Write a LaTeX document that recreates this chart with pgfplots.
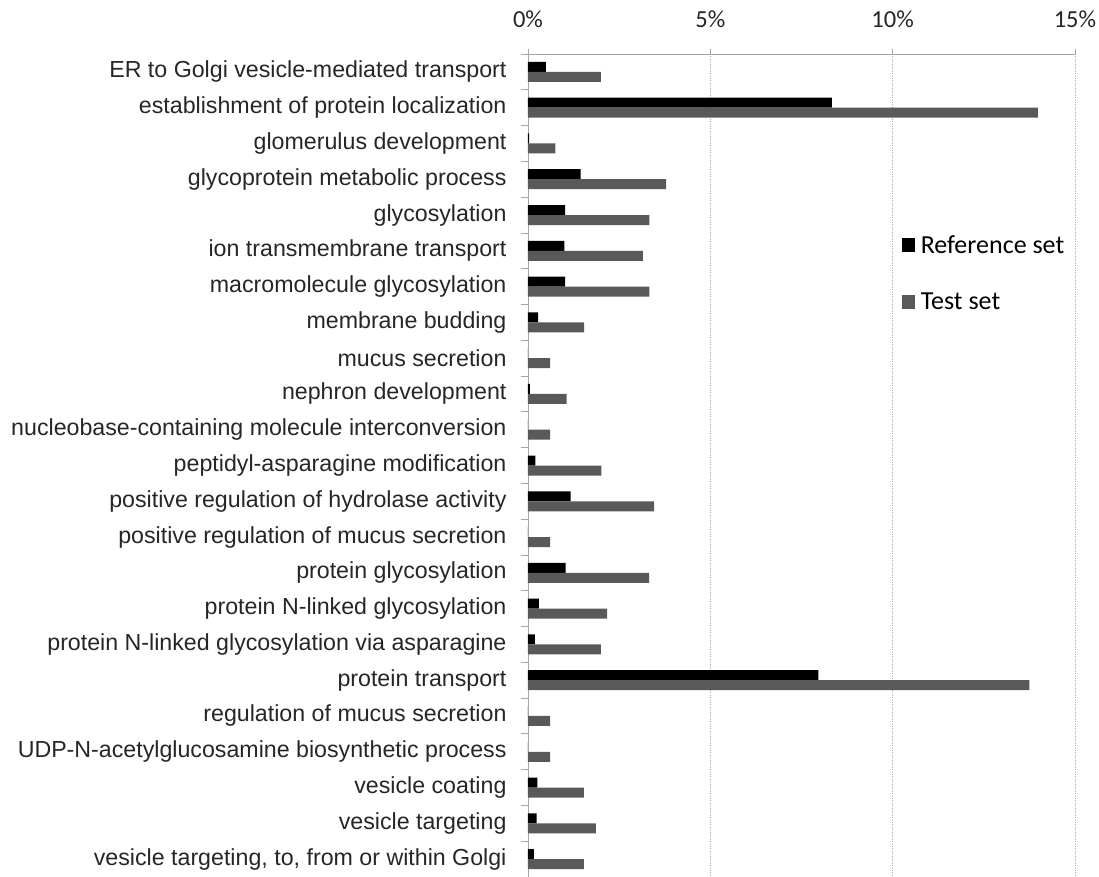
\documentclass[border=0pt]{standalone}
\usepackage{fontspec}
\usepackage{pgfplots}
\pgfplotsset{compat=1.18}
\newfontfamily\catfont{Liberation Sans}
\newfontfamily\calfont{Carlito}
\definecolor{testgray}{HTML}{595959}
\definecolor{axgray}{HTML}{A6A6A6}
\begin{document}
\begin{tikzpicture}
\begin{axis}[
  scale only axis,
  width=547pt, height=823pt,
  xbar, bar width=10pt,
  xmin=0, xmax=15, ymin=-0.5, ymax=22.5,
  y dir=reverse,
  axis x line*=top, axis y line*=left,
  axis line style={axgray, line width=0.8pt},
  xtick={0,5,10,15}, xticklabels={0\%,5\%,10\%,15\%},
  xmajorgrids, grid style={axgray, dotted, line width=0.8pt},
  ytick={0,...,22},
  minor ytick={-0.5,0.5,...,22.5},
  tick align=outside,
  major tick length=5pt, minor tick length=6.5pt,
  every major y tick/.append style={draw=none},
  every minor y tick/.append style={axgray, line width=0.8pt},
  every major x tick/.append style={axgray, line width=0.8pt},
  x tick label style={font=\calfont\fontsize{24.5}{28}\selectfont, text=black!85, yshift=18pt},
  y tick label style={font=\catfont\fontsize{23.2}{27}\selectfont, text=black!85, xshift=-13pt},
  yticklabels={
    ER to Golgi vesicle-mediated transport,
    establishment of protein localization,
    glomerulus development,
    glycoprotein metabolic process,
    glycosylation,
    ion transmembrane transport,
    macromolecule glycosylation,
    membrane budding,
    mucus secretion,
    nephron development,
    nucleobase-containing molecule interconversion,
    peptidyl-asparagine modification,
    positive regulation of hydrolase activity,
    positive regulation of mucus secretion,
    protein glycosylation,
    protein N-linked glycosylation,
    protein N-linked glycosylation via asparagine,
    protein transport,
    regulation of mucus secretion,
    UDP-N-acetylglucosamine biosynthetic process,
    vesicle coating,
    vesicle targeting,
    {vesicle targeting, to, from or within Golgi}},
  legend style={at={(axis description cs:0.683,0.782)}, anchor=north west, draw=none, fill=none,
    font=\calfont\fontsize{26}{30}\selectfont, row sep=34pt, inner sep=0pt,
    nodes={inner sep=2pt}},
  legend cell align=left,
  legend image code/.code={\fill[#1] (0pt,-7pt) rectangle (13pt,7pt); \path (17pt,0pt);},
]
\addplot[fill=black, draw=none, bar shift=5pt] coordinates {
(0.49,0) (8.33,1) (0.03,2) (1.44,3) (1.02,4) (1.00,5) (1.02,6) (0.28,7) (0,8) (0.05,9)
(0,10) (0.20,11) (1.17,12) (0,13) (1.03,14) (0.30,15) (0.19,16) (7.96,17) (0,18) (0,19)
(0.26,20) (0.24,21) (0.16,22)};
\addplot[fill=testgray, draw=none, bar shift=-5pt] coordinates {
(2.00,0) (13.98,1) (0.75,2) (3.79,3) (3.33,4) (3.15,5) (3.33,6) (1.54,7) (0.61,8) (1.06,9)
(0.61,10) (2.01,11) (3.46,12) (0.61,13) (3.32,14) (2.17,15) (2.00,16) (13.75,17) (0.61,18) (0.61,19)
(1.53,20) (1.86,21) (1.53,22)};
\legend{Reference set, Test set}
\end{axis}
\pgfresetboundingbox
\path[use as bounding box] (-528pt,0pt) rectangle (571pt,877pt);
\end{tikzpicture}
\end{document}
